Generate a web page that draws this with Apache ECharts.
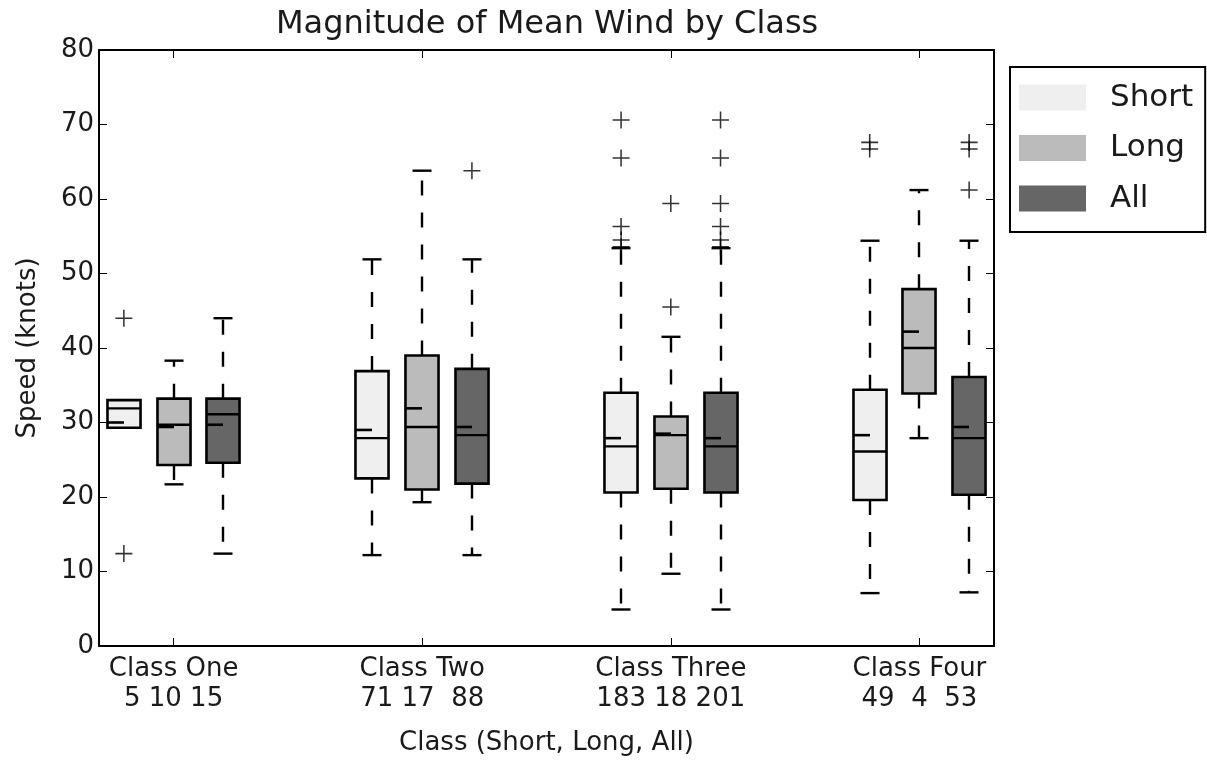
<!DOCTYPE html>
<html><head><meta charset="utf-8">
<script src="https://cdn.jsdelivr.net/npm/echarts@6/dist/echarts.min.js"></script>
<style>html,body{margin:0;padding:0;background:#fff}#chart{width:1207px;height:761px}</style>
</head><body><div id="chart"></div>
<script>
// ---------- data ----------
const categories = ['Class One', 'Class Two', 'Class Three', 'Class Four'];
const countLabels = ['5 10 15', '71 17  88', '183 18 201', '49  4  53'];
const seriesNames = ['Short', 'Long', 'All'];

// [lowWhisker, q1, median, q3, highWhisker] per class
const shortStats = [[29.3, 29.3, 31.9, 33.0, 33.0], [12.2, 22.5, 27.9, 36.9, 51.9], [4.9, 20.6, 26.8, 34.0, 53.4], [7.1, 19.6, 26.1, 34.4, 54.4]];
const longStats  = [[21.7, 24.3, 29.7, 33.2, 38.3], [19.3, 21.0, 29.4, 39.0, 63.8], [9.7, 21.1, 28.3, 30.8, 41.5], [27.9, 33.9, 40.0, 47.9, 61.2]];
const allStats   = [[12.4, 24.6, 31.1, 33.2, 44.0], [12.2, 21.8, 28.3, 37.2, 51.9], [4.9, 20.6, 26.8, 34.0, 53.4], [7.2, 20.3, 27.9, 36.1, 54.4]];

const shortMeans = [30.0, 29.0, 27.9, 28.3];
const longMeans  = [29.4, 31.9, 28.5, 42.2];
const allMeans   = [29.7, 29.4, 27.9, 29.4];

const shortOutliers = [[44.0, 12.4], [], [70.6, 65.5, 56.3, 54.5, 53.6], [67.6, 66.7]];
const longOutliers  = [[], [], [59.4, 45.5], []];
const allOutliers   = [[], [63.8], [70.6, 65.5, 59.4, 56.3, 54.5, 53.6], [67.6, 66.7, 61.2]];

// ---------- presentation ----------
const FONT = 'DejaVu Sans';
const TXT = '#1a1a1a';
const colors = ['#efefef', '#bbbbbb', '#666666'];
const offsets = [-0.2, 0, 0.2];
const statsList = [shortStats, longStats, allStats];
const meansList = [shortMeans, longMeans, allMeans];
const outlierList = [shortOutliers, longOutliers, allOutliers];

function renderBox(params, api) {
  const pos = api.value(0);
  const lo = api.coord([pos, api.value(1)]);
  const q1 = api.coord([pos, api.value(2)]);
  const md = api.coord([pos, api.value(3)]);
  const q3 = api.coord([pos, api.value(4)]);
  const hi = api.coord([pos, api.value(5)]);
  const mn = api.coord([pos, api.value(6)]);
  const w = api.size([0.133, 0])[0];
  const cx = Math.round(q1[0]);
  const half = w / 2, cap = 9.5;
  const fill = api.visual('color');
  const ws = { stroke: '#000', lineWidth: 2.4, lineDash: [15, 17], fill: null };
  const ls = { stroke: '#000', lineWidth: 2.4, fill: null };
  const children = [];
  if (hi[1] < q3[1] - 0.5) children.push({ type: 'line', shape: { x1: cx, y1: q3[1], x2: cx, y2: hi[1] }, style: ws });
  if (lo[1] > q1[1] + 0.5) children.push({ type: 'line', shape: { x1: cx, y1: q1[1], x2: cx, y2: lo[1] }, style: ws });
  children.push({ type: 'line', shape: { x1: cx - cap, y1: hi[1], x2: cx + cap, y2: hi[1] }, style: ls });
  children.push({ type: 'line', shape: { x1: cx - cap, y1: lo[1], x2: cx + cap, y2: lo[1] }, style: ls });
  children.push({ type: 'rect', shape: { x: cx - half, y: q3[1], width: w, height: q1[1] - q3[1] }, style: { fill: fill, stroke: '#000', lineWidth: 2.6 } });
  children.push({ type: 'line', shape: { x1: cx - half, y1: md[1], x2: cx + half, y2: md[1] }, style: ls });
  children.push({ type: 'line', shape: { x1: cx - half, y1: mn[1], x2: cx, y2: mn[1] }, style: { stroke: '#000', lineWidth: 2.6 } });
  return { type: 'group', children: children };
}

const series = [];
seriesNames.forEach((name, s) => {
  const data = categories.map((c, i) => {
    const st = statsList[s][i];
    return [i + 1 + offsets[s], st[0], st[1], st[2], st[3], st[4], meansList[s][i]];
  });
  series.push({
    name: name, type: 'custom', renderItem: renderBox,
    color: colors[s], itemStyle: { color: colors[s] },
    encode: { x: 0, y: [1, 2, 3, 4, 5, 6] },
    data: data, z: 2
  });
});
seriesNames.forEach((name, s) => {
  const pts = [];
  outlierList[s].forEach((vals, i) => vals.forEach(v => pts.push([i + 1 + offsets[s], v])));
  series.push({
    name: name + ' outliers', type: 'scatter', data: pts,
    symbol: 'path://M45.5,0H54.5V45.5H100V54.5H54.5V100H45.5V54.5H0V45.5H45.5Z',
    symbolSize: 17, itemStyle: { color: '#000' }, z: 3, silent: true
  });
});

const axisLine = { show: true, onZero: false, lineStyle: { color: '#000', width: 2 } };
const tickVals = categories.map((c, i) => i + 1);

const option = {
  animation: false,
  backgroundColor: '#fff',
  textStyle: { fontFamily: FONT },
  title: {
    text: 'Magnitude of Mean Wind by Class', left: 271, top: 4,
    textStyle: { fontFamily: FONT, fontSize: 32, fontWeight: 'normal', color: TXT }
  },
  legend: {
    orient: 'vertical', left: 1010, top: 67,
    data: seriesNames.map(n => ({ name: n, icon: 'rect' })),
    itemWidth: 67, itemHeight: 26, itemGap: 19.5,
    padding: [15, 12, 18, 9],
    borderColor: '#000', borderWidth: 2,
    textStyle: { fontFamily: FONT, fontSize: 31, color: TXT, lineHeight: 26, padding: [0, 0, 0, 19] },
    itemStyle: { borderWidth: 0 }
  },
  grid: { left: 99, right: 213, top: 50, bottom: 115, containLabel: false },
  xAxis: [{
    type: 'value', min: 0.7, max: 4.3, position: 'bottom',
    axisLine: axisLine,
    axisTick: { show: true, inside: true, length: 8, customValues: tickVals, lineStyle: { color: '#000', width: 1 } },
    axisLabel: {
      show: true, customValues: tickVals, margin: 8,
      fontFamily: FONT, fontSize: 26, lineHeight: 30, color: TXT,
      formatter: v => { const i = Math.round(v) - 1; return categories[i] + '\n' + countLabels[i]; }
    },
    splitLine: { show: false },
    name: 'Class (Short, Long, All)', nameLocation: 'middle', nameGap: 84,
    nameTextStyle: { fontFamily: FONT, fontSize: 26, color: TXT }
  }, {
    type: 'value', min: 0.7, max: 4.3, position: 'top',
    axisLine: axisLine,
    axisTick: { show: true, inside: true, length: 8, customValues: tickVals, lineStyle: { color: '#000', width: 1 } },
    axisLabel: { show: false }, splitLine: { show: false }
  }],
  yAxis: [{
    type: 'value', min: 0, max: 80, interval: 10, position: 'left',
    axisLine: axisLine,
    axisTick: { show: true, inside: true, length: 8, lineStyle: { color: '#000', width: 1 } },
    axisLabel: { margin: 5, fontFamily: FONT, fontSize: 26, color: TXT },
    splitLine: { show: false },
    name: 'Speed (knots)', nameLocation: 'middle', nameGap: 58, nameRotate: 90,
    nameTextStyle: { fontFamily: FONT, fontSize: 26, color: TXT }
  }, {
    type: 'value', min: 0, max: 80, interval: 10, position: 'right',
    axisLine: axisLine,
    axisTick: { show: true, inside: true, length: 8, lineStyle: { color: '#000', width: 1 } },
    axisLabel: { show: false }, splitLine: { show: false }
  }],
  series: series
};

const chart = echarts.init(document.getElementById('chart'), null, { renderer: 'canvas' });
chart.setOption(option);
</script>
</body></html>
